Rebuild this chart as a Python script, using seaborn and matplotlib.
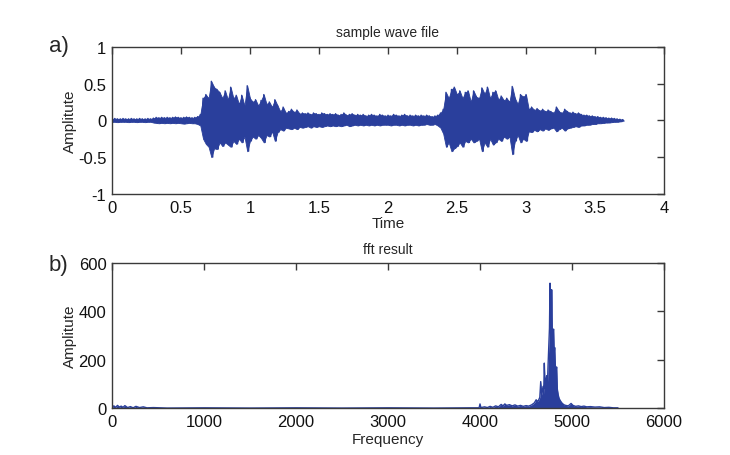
import numpy as np
import pandas as pd
import matplotlib
matplotlib.use("Agg")
import matplotlib.pyplot as plt
import seaborn as sns

# waveform envelope, one value every 0.02 s (0 .. 3.70 s)
wave_upper = [
    0.02, 0.025, 0.02, 0.02, 0.025, 0.02, 0.02, 0.025, 0.02, 0.02,
    0.025, 0.02, 0.02, 0.025, 0.02, 0.03, 0.04, 0.035, 0.04, 0.035,
    0.04, 0.035, 0.04, 0.045, 0.04, 0.035, 0.04, 0.045, 0.04, 0.035,
    0.04, 0.05, 0.08, 0.3, 0.35, 0.3, 0.53, 0.45, 0.42, 0.38,
    0.3, 0.4, 0.28, 0.45, 0.3, 0.34, 0.22, 0.34, 0.2, 0.47,
    0.3, 0.25, 0.28, 0.2, 0.27, 0.35, 0.22, 0.25, 0.18, 0.28,
    0.2, 0.12, 0.18, 0.1, 0.12, 0.15, 0.11, 0.14, 0.09, 0.1,
    0.09, 0.1, 0.08, 0.1, 0.09, 0.08, 0.1, 0.09, 0.08, 0.09,
    0.08, 0.09, 0.07, 0.08, 0.1, 0.07, 0.08, 0.09, 0.07, 0.08,
    0.07, 0.08, 0.06, 0.07, 0.08, 0.07, 0.06, 0.08, 0.07, 0.06,
    0.07, 0.06, 0.08, 0.07, 0.06, 0.07, 0.08, 0.06, 0.07, 0.06,
    0.07, 0.06, 0.07, 0.06, 0.07, 0.06, 0.05, 0.06, 0.07, 0.1,
    0.15, 0.38, 0.3, 0.42, 0.45, 0.35, 0.4, 0.3, 0.38, 0.4,
    0.25, 0.4, 0.32, 0.3, 0.44, 0.36, 0.45, 0.3, 0.38, 0.4,
    0.28, 0.33, 0.27, 0.3, 0.25, 0.46, 0.3, 0.22, 0.35, 0.32,
    0.35, 0.15, 0.18, 0.14, 0.16, 0.13, 0.15, 0.12, 0.14, 0.12,
    0.1, 0.18, 0.12, 0.1, 0.15, 0.12, 0.1, 0.11, 0.09, 0.1,
    0.08, 0.07, 0.07, 0.06, 0.06, 0.05, 0.05, 0.04, 0.04, 0.035,
    0.03, 0.03, 0.025, 0.02, 0.015, 0.01,
]
wave_lower = [
    -0.02, -0.02, -0.025, -0.02, -0.02, -0.02, -0.025, -0.02, -0.02, -0.025,
    -0.02, -0.02, -0.025, -0.02, -0.02, -0.03, -0.035, -0.04, -0.035, -0.04,
    -0.035, -0.04, -0.035, -0.04, -0.035, -0.04, -0.045, -0.04, -0.035, -0.04,
    -0.04, -0.05, -0.07, -0.25, -0.32, -0.36, -0.5, -0.38, -0.39, -0.3,
    -0.35, -0.3, -0.33, -0.36, -0.28, -0.32, -0.25, -0.3, -0.22, -0.42,
    -0.28, -0.22, -0.25, -0.2, -0.24, -0.3, -0.2, -0.22, -0.15, -0.28,
    -0.16, -0.12, -0.14, -0.1, -0.11, -0.12, -0.1, -0.12, -0.09, -0.1,
    -0.09, -0.08, -0.1, -0.08, -0.09, -0.08, -0.09, -0.08, -0.07, -0.08,
    -0.07, -0.08, -0.07, -0.08, -0.07, -0.06, -0.08, -0.07, -0.06, -0.07,
    -0.06, -0.07, -0.06, -0.07, -0.06, -0.07, -0.06, -0.07, -0.06, -0.06,
    -0.06, -0.07, -0.06, -0.06, -0.07, -0.06, -0.07, -0.06, -0.06, -0.07,
    -0.06, -0.07, -0.06, -0.06, -0.05, -0.06, -0.06, -0.05, -0.07, -0.1,
    -0.18, -0.36, -0.3, -0.42, -0.38, -0.35, -0.3, -0.36, -0.28, -0.3,
    -0.25, -0.3, -0.28, -0.25, -0.42, -0.3, -0.36, -0.25, -0.33, -0.3,
    -0.25, -0.28, -0.22, -0.25, -0.22, -0.46, -0.28, -0.2, -0.3, -0.25,
    -0.28, -0.15, -0.16, -0.13, -0.15, -0.12, -0.14, -0.11, -0.13, -0.11,
    -0.1, -0.15, -0.12, -0.1, -0.14, -0.11, -0.1, -0.09, -0.08, -0.09,
    -0.07, -0.07, -0.06, -0.06, -0.05, -0.05, -0.04, -0.04, -0.035, -0.03,
    -0.03, -0.025, -0.02, -0.02, -0.015, -0.01,
]
wave_step = 0.02

# fft magnitude
fft_freq = [
    0, 20, 40, 60, 80, 100, 120, 140, 170, 200, 230, 260, 300, 340, 380, 450,
    600, 1000, 1500, 2000, 2500, 3000, 3500, 3900, 3990, 4000, 4010, 4050,
    4080, 4110, 4140, 4170, 4200, 4230, 4250, 4270, 4290, 4320, 4350, 4380,
    4410, 4440, 4470, 4500, 4530, 4560, 4590, 4610, 4630, 4650, 4660, 4670,
    4685, 4692, 4699, 4708, 4718, 4725, 4732, 4740, 4748, 4755, 4761, 4767,
    4773, 4779, 4785, 4792, 4800, 4806, 4812, 4818, 4825, 4833, 4840, 4850,
    4860, 4875, 4890, 4910, 4930, 4960, 4990, 5010, 5040, 5070, 5100, 5130,
    5160, 5200, 5250, 5300, 5350, 5400, 5450, 5500,
]
fft_amp = [
    3, 10, 4, 12, 5, 9, 4, 11, 3, 7, 2, 8, 3, 6, 2, 3,
    1, 2, 1, 2, 1, 2, 1, 2, 2, 18, 3, 6,
    3, 8, 4, 10, 6, 16, 10, 18, 12, 15, 10, 14,
    9, 12, 8, 11, 9, 14, 22, 35, 28, 45, 110, 55,
    90, 60, 186, 80, 120, 134, 90, 180, 260, 330, 515, 340,
    320, 488, 330, 310, 326, 230, 250, 180, 150, 170, 80, 55,
    40, 30, 22, 15, 12, 10, 20, 12, 8, 10, 7, 9,
    6, 7, 5, 6, 3, 4, 2, 2,
]

blue = "#2a3f9c"
edge = "#3a3a3a"

sns.set_style("white")
plt.rcParams["font.family"] = ["Liberation Sans", "DejaVu Sans"]

fig = plt.figure(figsize=(7.3, 4.56), dpi=100)
ax1 = fig.add_axes([0.1534, 0.5724, 0.7562, 0.3230])
ax2 = fig.add_axes([0.1534, 0.1024, 0.7562, 0.3197])

# top: waveform, solid envelope plus a zigzag between the peaks
t = np.arange(len(wave_upper)) * wave_step
wave = pd.DataFrame({
    "time": np.column_stack([t, t + wave_step / 2]).ravel(),
    "amp": np.column_stack([wave_upper, wave_lower]).ravel(),
})
ax1.fill_between(t, wave_lower, wave_upper, color=blue, lw=0.6)
sns.lineplot(data=wave, x="time", y="amp", sort=False, estimator=None,
             color=blue, lw=1.0, ax=ax1)
ax1.set_xlim(0, 4)
ax1.set_ylim(-1, 1)
ax1.set_xticks(np.arange(0, 4.01, 0.5))
ax1.set_xticklabels(["0", "0.5", "1", "1.5", "2", "2.5", "3", "3.5", "4"])
ax1.set_yticks([-1, -0.5, 0, 0.5, 1])
ax1.set_yticklabels(["-1", "-0.5", "0", "0.5", "1"])
ax1.set_title("sample wave file", fontsize=10, pad=8)
ax1.set_xlabel("Time", fontsize=11, labelpad=1)
ax1.set_ylabel("Amplitute", fontsize=11, labelpad=1)

# bottom: fft result
fft = pd.DataFrame({"freq": fft_freq, "amp": fft_amp})
ax2.fill_between(fft["freq"], 0, fft["amp"], color=blue, lw=0)
sns.lineplot(data=fft, x="freq", y="amp", estimator=None, color=blue, lw=1.0, ax=ax2)
ax2.set_xlim(0, 6000)
ax2.set_ylim(0, 600)
ax2.set_xticks(range(0, 6001, 1000))
ax2.set_yticks([0, 200, 400, 600])
ax2.set_title("fft result", fontsize=10, pad=7)
ax2.set_xlabel("Frequency", fontsize=11, labelpad=2)
ax2.set_ylabel("Amplitute", fontsize=11, labelpad=1)

for ax in (ax1, ax2):
    for s in ax.spines.values():
        s.set_color(edge)
        s.set_linewidth(1.0)
    ax.tick_params(direction="in", length=5, width=1, color=edge,
                   top=True, right=True, labelsize=12, pad=4, labelcolor="#111111")

fig.text(0.067, 0.885, "a)", fontsize=16)
fig.text(0.067, 0.405, "b)", fontsize=16)

fig.savefig("out.png", dpi=100)
